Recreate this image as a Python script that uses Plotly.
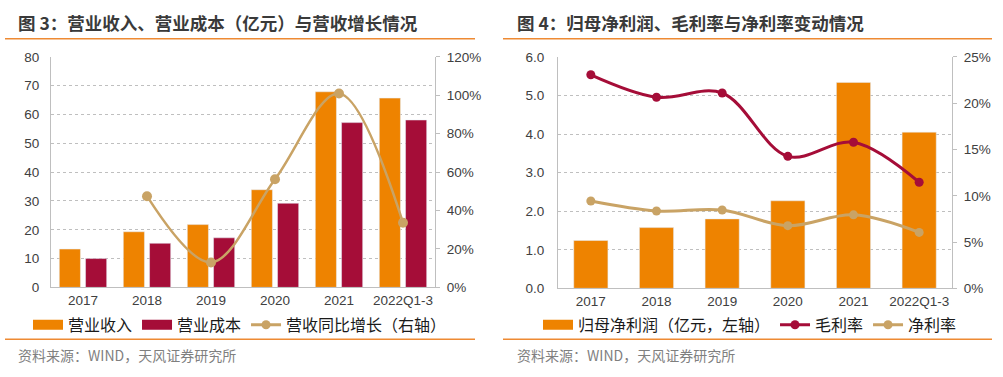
import plotly.graph_objects as go

# ---------------- data ----------------
years = ["2017", "2018", "2019", "2020", "2021", "2022Q1-3"]
revenue = [13.3, 19.3, 21.8, 33.9, 67.9, 65.7]          # 营业收入 (亿元)
cost = [10.0, 15.3, 17.2, 29.2, 57.2, 58.1]             # 营业成本 (亿元)
rev_growth_years = ["2018", "2019", "2020", "2021", "2022Q1-3"]
rev_growth = [0.475, 0.13, 0.563, 1.01, 0.337]          # 营收同比增长

net_profit = [1.24, 1.575, 1.80, 2.27, 5.34, 4.05]      # 归母净利润 (亿元)
gross_margin = [0.2307, 0.2065, 0.211, 0.1426, 0.1578, 0.1146]
net_margin = [0.0943, 0.0836, 0.0846, 0.0677, 0.0794, 0.0604]

left_ticks = [0, 10, 20, 30, 40, 50, 60, 70, 80]
right_ticks_1 = [0, 0.2, 0.4, 0.6, 0.8, 1.0, 1.2]
left_ticks_2 = [0, 1, 2, 3, 4, 5, 6]
right_ticks_2 = [0, 0.05, 0.10, 0.15, 0.20, 0.25]

ORANGE = "#EE8300"
RED = "#A50D38"
TAN = "#C9A365"
AXIS = "#BFBFBF"
TXT = "#404040"
FONT = "Liberation Sans, Arial, Noto Sans CJK SC, sans-serif"
CJK = "Noto Sans CJK SC, sans-serif"

W, H = 1003, 377
def px(x): return x / W
def py(y): return (H - y) / H

fig = go.Figure()

# ---------- left chart ----------
fig.add_trace(go.Bar(x=years, y=revenue, name="营业收入", marker_color=ORANGE,
                     width=0.33, offset=-0.37, xaxis="x", yaxis="y", showlegend=False))
fig.add_trace(go.Bar(x=years, y=cost, name="营业成本", marker_color=RED,
                     width=0.33, offset=0.04, xaxis="x", yaxis="y", showlegend=False))
fig.add_trace(go.Scatter(x=rev_growth_years, y=rev_growth, mode="lines+markers",
                         line=dict(color=TAN, width=2.5, shape="spline", smoothing=1.0),
                         marker=dict(color=TAN, size=10), xaxis="x", yaxis="y2",
                         showlegend=False))
# legend proxies (left)
fig.add_trace(go.Scatter(x=[None], y=[None], mode="lines", name="营业收入",
                         line=dict(color=ORANGE, width=10), legend="legend", xaxis="x", yaxis="y"))
fig.add_trace(go.Scatter(x=[None], y=[None], mode="lines", name="营业成本",
                         line=dict(color=RED, width=10), legend="legend", xaxis="x", yaxis="y"))
fig.add_trace(go.Scatter(x=[None], y=[None], mode="lines+markers", name="营收同比增长（右轴）",
                         line=dict(color=TAN, width=3), marker=dict(color=TAN, size=9),
                         legend="legend", xaxis="x", yaxis="y"))

# ---------- right chart ----------
fig.add_trace(go.Bar(x=years, y=net_profit, name="归母净利润（亿元，左轴）", marker_color=ORANGE,
                     width=0.52, offset=-0.26, xaxis="x2", yaxis="y3", showlegend=False))
fig.add_trace(go.Scatter(x=years, y=gross_margin, mode="lines+markers", name="毛利率",
                         line=dict(color=RED, width=3, shape="spline", smoothing=1.0),
                         marker=dict(color=RED, size=9), xaxis="x2", yaxis="y4", showlegend=False))
fig.add_trace(go.Scatter(x=years, y=net_margin, mode="lines+markers", name="净利率",
                         line=dict(color=TAN, width=3, shape="spline", smoothing=1.0),
                         marker=dict(color=TAN, size=9), xaxis="x2", yaxis="y4", showlegend=False))
fig.add_trace(go.Scatter(x=[None], y=[None], mode="lines", name="归母净利润（亿元，左轴）",
                         line=dict(color=ORANGE, width=10), legend="legend2", xaxis="x2", yaxis="y3"))
fig.add_trace(go.Scatter(x=[None], y=[None], mode="lines+markers", name="毛利率",
                         line=dict(color=RED, width=3), marker=dict(color=RED, size=9),
                         legend="legend2", xaxis="x2", yaxis="y3"))
fig.add_trace(go.Scatter(x=[None], y=[None], mode="lines+markers", name="净利率",
                         line=dict(color=TAN, width=3), marker=dict(color=TAN, size=9),
                         legend="legend2", xaxis="x2", yaxis="y3"))

tickfont = dict(family=FONT, size=13.5, color=TXT)

xcommon = dict(type="category", showline=True, linecolor=AXIS, linewidth=1, ticks="",
               tickfont=tickfont, showgrid=False, zeroline=False, fixedrange=True)
ycommon = dict(showline=True, linecolor=AXIS, linewidth=1, tickfont=tickfont,
               zeroline=False, fixedrange=True)

fig.update_layout(
    width=W, height=H,
    margin=dict(l=0, r=0, t=0, b=0),
    paper_bgcolor="white", plot_bgcolor="white",
    barmode="overlay",
    xaxis=dict(domain=[px(51), px(435)], anchor="y", range=[-0.5, 5.5], **xcommon),
    yaxis=dict(domain=[py(292), py(52)], anchor="x", range=[0, 80], tickvals=left_ticks,
               showgrid=True, gridcolor=AXIS, griddash="dot", gridwidth=1,
               ticks="", ticklabelstandoff=8, **ycommon),
    yaxis2=dict(overlaying="y", anchor="x", side="right", range=[0, 1.2],
                tickvals=right_ticks_1, tickformat=".0%", showgrid=False,
                ticks="outside", ticklen=4, tickcolor=AXIS, ticklabelstandoff=4, **ycommon),
    xaxis2=dict(domain=[px(558), px(952)], anchor="y3", range=[-0.5, 5.5], **xcommon),
    yaxis3=dict(domain=[py(293), py(52)], anchor="x2", range=[0, 6], tickvals=left_ticks_2,
                tickformat=".1f", showgrid=True, gridcolor=AXIS, griddash="dot", gridwidth=1,
                ticks="", ticklabelstandoff=10, **ycommon),
    yaxis4=dict(overlaying="y3", anchor="x2", side="right", range=[0, 0.25],
                tickvals=right_ticks_2, tickformat=".0%", showgrid=False,
                ticks="outside", ticklen=4, tickcolor=AXIS, ticklabelstandoff=4, **ycommon),
    legend=dict(orientation="h", x=px(28), y=py(331), xanchor="left", yanchor="middle",
                font=dict(family=CJK, size=16, color="#1a1a1a"), bgcolor="rgba(0,0,0,0)",
                itemwidth=30, tracegroupgap=0, itemclick=False),
    legend2=dict(orientation="h", x=px(538), y=py(331), xanchor="left", yanchor="middle",
                 font=dict(family=CJK, size=16, color="#1a1a1a"), bgcolor="rgba(0,0,0,0)",
                 itemwidth=30, tracegroupgap=0, itemclick=False),
    showlegend=True,
)

# titles, source notes and decorative rules
fig.add_annotation(text="<b>图 3：营业收入、营业成本（亿元）与营收增长情况</b>", x=px(16), y=py(16),
                   xref="paper", yref="paper", xanchor="left", yanchor="middle", showarrow=False,
                   font=dict(family=CJK, size=17.5, color="#3a3a3a"))
fig.add_annotation(text="<b>图 4：归母净利润、毛利率与净利率变动情况</b>", x=px(515), y=py(16),
                   xref="paper", yref="paper", xanchor="left", yanchor="middle", showarrow=False,
                   font=dict(family=CJK, size=17.5, color="#3a3a3a"))
for sx in (16, 515):
    fig.add_annotation(text="资料来源：WIND，天风证券研究所", x=px(sx), y=py(362),
                       xref="paper", yref="paper", xanchor="left", yanchor="middle", showarrow=False,
                       font=dict(family=CJK, size=14, color="#7f7f7f"))
for x0, x1 in ((5, 475), (503, 992)):
    for yy in (33, 346):
        fig.add_shape(type="line", xref="paper", yref="paper", x0=px(x0), x1=px(x1),
                      y0=py(yy), y1=py(yy), line=dict(color="#EE8A33", width=1.5))

fig.write_html("out.html", config={"displayModeBar": False},
               post_script="document.body.style.margin='0';document.body.style.overflow='hidden';")
